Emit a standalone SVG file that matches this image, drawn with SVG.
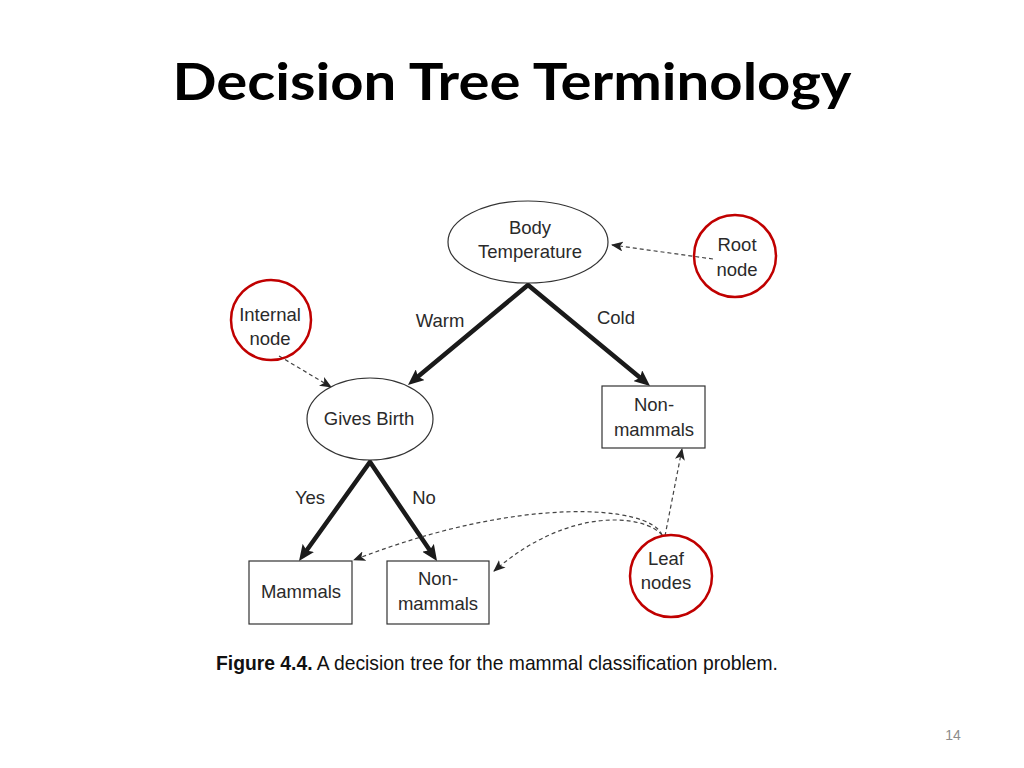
<svg xmlns="http://www.w3.org/2000/svg" width="1024" height="768" viewBox="0 0 1024 768">
<style>
.t{font-family:"Liberation Sans",Arial,sans-serif;font-size:18.5px;fill:#2a2a2a;text-anchor:middle}
.shape{fill:#fff;stroke:#333;stroke-width:1.2}
.hl{fill:none;stroke:#c00000;stroke-width:2.5}
.edge{fill:none;stroke:#1a1a1a;stroke-width:4.5;stroke-linejoin:miter}
.dash{fill:none;stroke:#444;stroke-width:1.2;stroke-dasharray:4 3}
</style>
<defs>
<marker id="big" viewBox="0 0 16 14" refX="4" refY="7" markerWidth="16" markerHeight="14" markerUnits="userSpaceOnUse" orient="auto-start-reverse">
<path d="M0,0 L16,7 L0,14 L3,7 z" fill="#1a1a1a"/>
</marker>
<marker id="small" viewBox="0 0 12 10" refX="11" refY="5" markerWidth="12" markerHeight="10" markerUnits="userSpaceOnUse" orient="auto">
<path d="M0,0 L12,5 L0,10 L3,5 z" fill="#222"/>
</marker>
</defs>
<rect width="1024" height="768" fill="#fff"/>
<text x="512" y="100" font-family="Lato,'Liberation Sans',sans-serif" font-weight="bold" font-size="52" text-anchor="middle" fill="#000" textLength="679" lengthAdjust="spacingAndGlyphs">Decision Tree Terminology</text>

<g id="connectors">
<path class="edge" d="M417.2,377.3 L528,285 L640.8,378.3" marker-start="url(#big)" marker-end="url(#big)"/>
<path class="edge" d="M306,551.2 L370,462 L430.3,551.1" marker-start="url(#big)" marker-end="url(#big)"/>
<path class="dash" d="M713,259 L612,245" marker-end="url(#small)"/>
<path class="dash" d="M279,356 L331,387" marker-end="url(#small)"/>
<path class="dash" d="M665,536 L682,449" marker-end="url(#small)"/>
<path class="dash" d="M662,535 C650,505 520,495 354,560" marker-end="url(#small)"/>
<path class="dash" d="M662,535 C645,515 570,505 494,571" marker-end="url(#small)"/>
<text class="t" x="440" y="327">Warm</text>
<text class="t" x="616" y="324">Cold</text>
<text class="t" x="310" y="504">Yes</text>
<text class="t" x="424" y="504">No</text>
</g>

<g id="body-temperature">
<ellipse class="shape" cx="528" cy="242" rx="80" ry="41"/>
<text class="t" x="530" y="234">Body</text>
<text class="t" x="530" y="258">Temperature</text>
</g>
<g id="gives-birth">
<ellipse class="shape" cx="370" cy="419" rx="63" ry="41"/>
<text class="t" x="369" y="425">Gives Birth</text>
</g>
<g id="non-mammals-1">
<rect class="shape" x="602" y="386" width="103" height="62"/>
<text class="t" x="654" y="411">Non-</text>
<text class="t" x="654" y="436">mammals</text>
</g>
<g id="mammals">
<rect class="shape" x="249" y="561" width="103" height="63"/>
<text class="t" x="301" y="598">Mammals</text>
</g>
<g id="non-mammals-2">
<rect class="shape" x="387" y="561" width="102" height="63"/>
<text class="t" x="438" y="585">Non-</text>
<text class="t" x="438" y="610">mammals</text>
</g>
<g id="root-node">
<circle class="hl" cx="735" cy="256" r="41"/>
<text class="t" x="737" y="251">Root</text>
<text class="t" x="737" y="276">node</text>
</g>
<g id="internal-node">
<circle class="hl" cx="271" cy="320" r="40"/>
<text class="t" x="270" y="321">Internal</text>
<text class="t" x="270" y="345">node</text>
</g>
<g id="leaf-nodes">
<circle class="hl" cx="671" cy="576" r="41"/>
<text class="t" x="666" y="565">Leaf</text>
<text class="t" x="666" y="589">nodes</text>
</g>

<text x="216" y="670" font-family="'Liberation Sans',Arial,sans-serif" font-size="21" fill="#111" textLength="562" lengthAdjust="spacingAndGlyphs"><tspan font-weight="bold">Figure 4.4.</tspan>  A decision tree for the mammal classification problem.</text>
<text x="953" y="740" font-family="'Liberation Sans',Arial,sans-serif" font-size="14" fill="#8c8c8c" text-anchor="middle">14</text>
</svg>
